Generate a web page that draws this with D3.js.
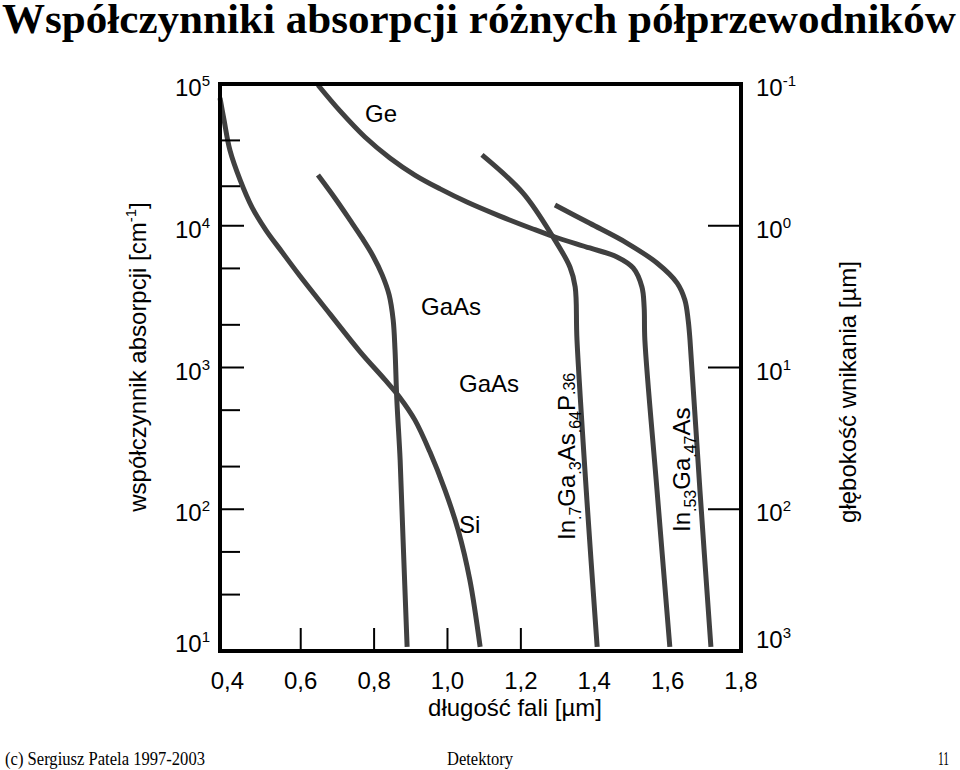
<!DOCTYPE html>
<html>
<head>
<meta charset="utf-8">
<script src="https://cdn.jsdelivr.net/npm/d3@7"></script>
<style>
  html, body { margin: 0; padding: 0; background: #fff; }
  svg { display: block; }
</style>
</head>
<body>
<svg id="chart" width="960" height="770"></svg>
<script>
// ---------- data ----------
const titleText = "Współczynniki absorpcji różnych półprzewodników";
const footerLeft = "(c) Sergiusz Patela 1997-2003";
const footerMid = "Detektory";
const footerRight = "11";

const wavelengthDomain = [0.38, 1.8];
const alphaDomain = [10, 1e5];
const depthDomain = [1e3, 1e-1];

const xTickValues = [0.4, 0.6, 0.8, 1.0, 1.2, 1.4, 1.6, 1.8];
const xTickLabels = ["0,4", "0,6", "0,8", "1,0", "1,2", "1,4", "1,6", "1,8"];
const xTickMarks = [0.6, 0.8, 1.0, 1.2];

const alphaMajor = [1e5, 1e4, 1e3, 1e2, 1e1];
const alphaMajorExp = ["5", "4", "3", "2", "1"];
const alphaMajorMarks = [1e4, 1e3, 1e2];
const alphaMinor = [40000, 19000, 5000, 2000, 500, 200, 50, 25];

const depthMajor = [1e-1, 1e0, 1e1, 1e2, 1e3];
const depthMajorExp = ["-1", "0", "1", "2", "3"];
const depthMarks = [1e0, 1e1, 1e2];

// curves: wavelength [µm] and absorption coefficient [cm^-1]
const siLambda = [0.380, 0.391, 0.407, 0.435, 0.467, 0.505, 0.549, 0.598, 0.680, 0.762, 0.830, 0.871, 0.911, 0.952, 0.993, 1.029, 1.061, 1.089];
const siAlpha  = [79600, 55700, 34200, 21000, 13550, 9330, 6530, 4420, 2380, 1290, 817, 610, 427, 254, 137, 71.4, 31.7, 10.7];

const gaasLambda = [0.647, 0.693, 0.734, 0.767, 0.797, 0.822, 0.841, 0.852, 0.857, 0.862, 0.871, 0.879, 0.890];
const gaasAlpha  = [22800, 15700, 11000, 8200, 6120, 4500, 3250, 2160, 1330, 590, 222, 60.7, 10.7];

const ingaaspLambda = [1.094, 1.206, 1.288, 1.334, 1.348, 1.353, 1.380, 1.408];
const ingaaspAlpha  = [31600, 17000, 8300, 5100, 3700, 1560, 116, 10.7];

const geLambda = [0.647, 0.707, 0.775, 0.843, 0.911, 0.980, 1.053, 1.143, 1.233, 1.293, 1.388, 1.462, 1.506, 1.530, 1.536, 1.538, 1.571, 1.606];
const geAlpha  = [98400, 64600, 42300, 30100, 22800, 18200, 14700, 11700, 9490, 8330, 6970, 6030, 5040, 3700, 2670, 1560, 137, 10.7];

const ingaasLambda = [1.293, 1.388, 1.489, 1.571, 1.626, 1.647, 1.656, 1.661, 1.688, 1.718];
const ingaasAlpha  = [14000, 10400, 7550, 5460, 3940, 2990, 2160, 1560, 137, 10.7];

// ---------- drawing ----------
const svg = d3.select("#chart");
const FONT = "Arial, 'Liberation Sans', Helvetica, sans-serif";
const SERIF = "'Liberation Serif', 'Times New Roman', serif";

const x = d3.scaleLinear().domain(wavelengthDomain).range([220, 741]);
const y = d3.scaleLog().domain(alphaDomain).range([651, 84]);
const yDepth = d3.scaleLog().domain(depthDomain).range([651, 84]);

const [x0, x1] = x.range();
const [yb, yt] = y.range();

// title
svg.append("text")
  .attr("x", 2).attr("y", 33)
  .attr("font-family", SERIF).attr("font-weight", "bold").attr("font-size", 43)
  .attr("textLength", 954).attr("lengthAdjust", "spacingAndGlyphs")
  .text(titleText);

// footer
const footer = [
  {t: footerLeft, x: 5, len: 200},
  {t: footerMid, x: 447, len: 66},
  {t: footerRight, x: 938, len: 11}
];
svg.selectAll(".foot").data(footer).join("text")
  .attr("x", d => d.x).attr("y", 765)
  .attr("font-family", SERIF).attr("font-size", 18)
  .attr("textLength", d => d.len).attr("lengthAdjust", "spacingAndGlyphs")
  .text(d => d.t);

// curves
const line = d3.line()
  .x(d => x(d[0])).y(d => y(d[1]))
  .curve(d3.curveCatmullRom.alpha(0.5));
const series = [
  d3.zip(siLambda, siAlpha),
  d3.zip(gaasLambda, gaasAlpha),
  d3.zip(ingaaspLambda, ingaaspAlpha),
  d3.zip(geLambda, geAlpha),
  d3.zip(ingaasLambda, ingaasAlpha)
];
svg.selectAll(".curve").data(series).join("path")
  .attr("d", line)
  .attr("fill", "none").attr("stroke", "#404040")
  .attr("stroke-width", 5).attr("stroke-linecap", "butt").attr("stroke-linejoin", "round");

// tick marks
const tickG = svg.append("g").attr("stroke", "#000").attr("stroke-width", 2);
tickG.selectAll(".ymaj").data(alphaMajorMarks).join("line")
  .attr("x1", x0).attr("x2", x0 + 24).attr("y1", d => y(d)).attr("y2", d => y(d));
tickG.selectAll(".ymin").data(alphaMinor).join("line")
  .attr("x1", x0).attr("x2", x0 + 20).attr("y1", d => y(d)).attr("y2", d => y(d));
tickG.selectAll(".xt").data(xTickMarks).join("line")
  .attr("x1", d => x(d)).attr("x2", d => x(d)).attr("y1", yb).attr("y2", yb - 23);
tickG.selectAll(".rt").data(depthMarks).join("line")
  .attr("x1", x1).attr("x2", x1 - 33).attr("y1", d => yDepth(d)).attr("y2", d => yDepth(d));

// frame
svg.append("rect")
  .attr("x", x0).attr("y", yt).attr("width", x1 - x0).attr("height", yb - yt)
  .attr("fill", "none").attr("stroke", "#000").attr("stroke-width", 4);

// x tick labels
svg.selectAll(".xl").data(xTickValues).join("text")
  .attr("x", d => x(d)).attr("y", 689)
  .attr("text-anchor", "middle")
  .attr("font-family", FONT).attr("font-size", 24)
  .text((d, i) => xTickLabels[i]);

// power-of-ten label helper
function powLabel(sel, exps) {
  sel.append("tspan").text("10");
  sel.append("tspan").attr("font-size", 15).attr("dy", -10).text((d, i) => exps[i]);
}

// left labels
svg.selectAll(".yl").data(alphaMajor).join("text")
  .attr("x", 210)
  .attr("y", (d, i) => y(d) + (i === alphaMajor.length - 1 ? 1 : 12))
  .attr("text-anchor", "end")
  .attr("font-family", FONT).attr("font-size", 24)
  .call(powLabel, alphaMajorExp);

// right labels
svg.selectAll(".rl").data(depthMajor).join("text")
  .attr("x", 756)
  .attr("y", (d, i) => yDepth(d) + (i === depthMajor.length - 1 ? -3 : 12))
  .attr("text-anchor", "start")
  .attr("font-family", FONT).attr("font-size", 24)
  .call(powLabel, depthMajorExp);

// axis titles
const yTitle = svg.append("text")
  .attr("transform", "translate(146,357) rotate(-90)")
  .attr("text-anchor", "middle")
  .attr("font-family", FONT).attr("font-size", 24);
yTitle.append("tspan").text("współczynnik absorpcji [cm");
yTitle.append("tspan").attr("font-size", 15).attr("dy", -10).text("-1");
yTitle.append("tspan").attr("dy", 10).text("]");

svg.append("text")
  .attr("transform", "translate(856,392) rotate(-90)")
  .attr("text-anchor", "middle")
  .attr("font-family", FONT).attr("font-size", 24)
  .text("głębokość wnikania [µm]");

svg.append("text")
  .attr("x", 515).attr("y", 716)
  .attr("text-anchor", "middle")
  .attr("font-family", FONT).attr("font-size", 24)
  .text("długość fali [µm]");

// curve labels
const curveLabels = [
  {t: "Ge", x: 365, y: 122},
  {t: "GaAs", x: 421, y: 315},
  {t: "GaAs", x: 459, y: 392},
  {t: "Si", x: 459, y: 533}
];
svg.selectAll(".cl").data(curveLabels).join("text")
  .attr("x", d => d.x).attr("y", d => d.y)
  .attr("font-family", FONT).attr("font-size", 24)
  .text(d => d.t);

function chem(parts, tx, ty) {
  const t = svg.append("text")
    .attr("transform", `translate(${tx},${ty}) rotate(-90)`)
    .attr("font-family", FONT).attr("font-size", 24);
  parts.forEach(p => {
    t.append("tspan")
      .attr("font-size", p.sub ? 16 : 24)
      .attr("dy", p.dy)
      .text(p.s);
  });
}
chem([
  {s: "In", dy: 0}, {s: ".7", sub: true, dy: 6},
  {s: "Ga", dy: -6}, {s: ".3", sub: true, dy: 6},
  {s: "As", dy: -6}, {s: ".64", sub: true, dy: 6},
  {s: "P", dy: -6}, {s: ".36", sub: true, dy: 0}
], 575, 540);
chem([
  {s: "In", dy: 0}, {s: ".53", sub: true, dy: 6},
  {s: "Ga", dy: -6}, {s: ".47", sub: true, dy: 6},
  {s: "As", dy: -6}
], 690, 532);
</script>
</body>
</html>
